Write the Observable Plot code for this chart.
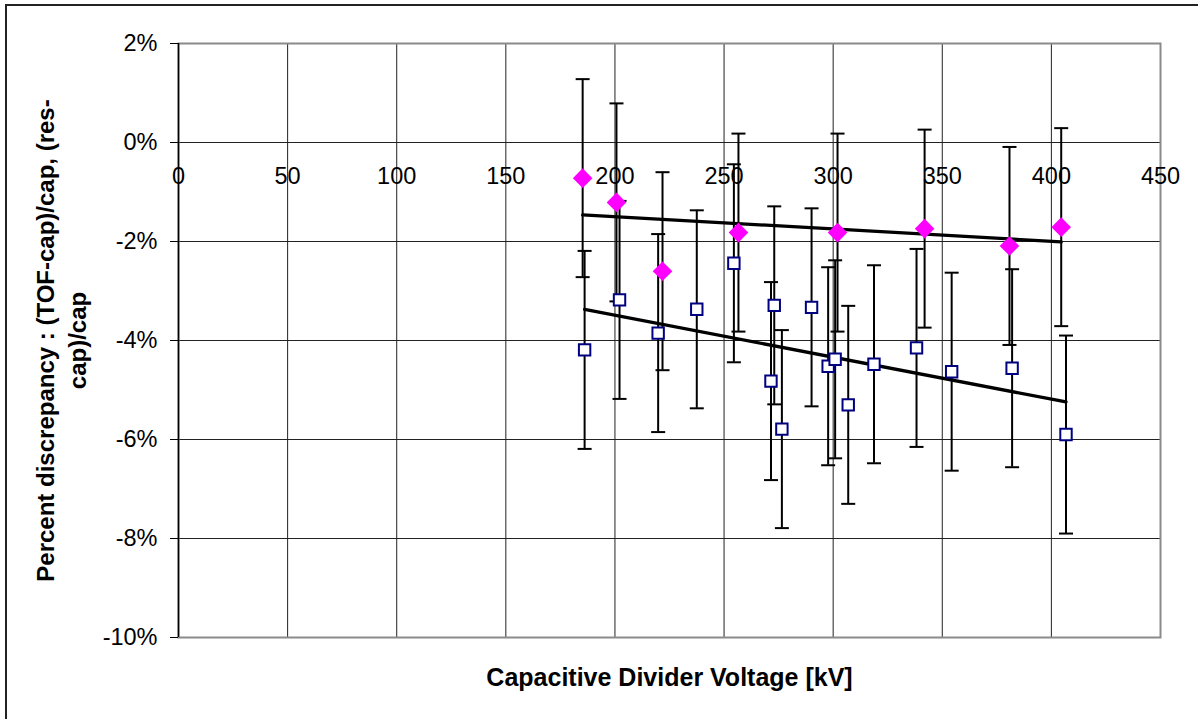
<!DOCTYPE html>
<html>
<head>
<meta charset="utf-8">
<script src="https://cdn.jsdelivr.net/npm/d3@7"></script>
<script src="https://cdn.jsdelivr.net/npm/@observablehq/plot@0.6"></script>
<style>
  body { margin: 0; background: #fff; }
  #wrap { position: relative; width: 1198px; height: 719px; overflow: hidden; background: #fff; }
  #wrap svg { position: absolute; left: 0; top: 0; }
  #border { position: absolute; left: 5px; top: 4px; width: 1300px; height: 800px;
            border-left: 2px solid #222; border-top: 2px solid #222; pointer-events: none; }
</style>
</head>
<body>
<div id="wrap"></div>
<script>
// ---- data ----
const xTicks = [0, 50, 100, 150, 200, 250, 300, 350, 400, 450];
const yTicks = [2, 0, -2, -4, -6, -8, -10];

// TOF vs capacitive divider (magenta diamonds)
const tofVoltage = [185.2, 200.7, 221.8, 256.6, 302.0, 341.9, 380.8, 404.5];
const tofDiscrepancy = [-0.72, -1.21, -2.60, -1.82, -1.82, -1.74, -2.09, -1.71];
const tofError = [2, 2, 2, 2, 2, 2, 2, 2];

// resistive divider vs capacitive divider (open squares)
const resVoltage = [186.1, 202.1, 219.8, 237.5, 254.5, 273.0, 271.5, 276.5, 290.1,
                    297.7, 300.9, 306.9, 318.7, 338.2, 354.3, 382.0, 406.7];
const resDiscrepancy = [-4.19, -3.18, -3.85, -3.37, -2.44, -3.29, -4.82, -5.79, -3.33,
                        -4.52, -4.38, -5.30, -4.48, -4.15, -4.63, -4.56, -5.90];
const resError = [2, 2, 2, 2, 2, 2, 2, 2, 2, 2, 2, 2, 2, 2, 2, 2, 2];

const xTitle = "Capacitive Divider Voltage [kV]";
const yTitleLines = ["Percent discrepancy : (TOF-cap)/cap, (res-", "cap)/cap"];

// ---- tables ----
const tof = tofVoltage.map((v, i) => ({v, d: tofDiscrepancy[i], e: tofError[i]}));
const res = resVoltage.map((v, i) => ({v, d: resDiscrepancy[i], e: resError[i]}));
const both = tof.concat(res);
const caps = both.flatMap(p => [{v: p.v, y: p.d + p.e}, {v: p.v, y: p.d - p.e}]);

// custom symbols
const capSymbol = {draw(ctx) { ctx.moveTo(-7, 0); ctx.lineTo(7, 0); }};
const diamondSymbol = {draw(ctx) { const h = 9.8; ctx.moveTo(0, -h); ctx.lineTo(h, 0); ctx.lineTo(0, h); ctx.lineTo(-h, 0); ctx.closePath(); }};
const squareSymbol = {draw(ctx) { const h = 5.7; ctx.moveTo(-h, -h); ctx.lineTo(h, -h); ctx.lineTo(h, h); ctx.lineTo(-h, h); ctx.closePath(); }};

const chart = Plot.plot({
  width: 1198,
  height: 719,
  marginLeft: 178,
  marginRight: 38,
  marginTop: 43,
  marginBottom: 82,
  style: {fontFamily: "Arial, 'Liberation Sans', sans-serif", fontSize: "23px", color: "#000", background: "transparent"},
  x: {domain: [0, 450], axis: null},
  y: {domain: [-10, 2]},
  marks: [
    // grid
    Plot.ruleX(xTicks.filter(d => d > 0 && d < 450), {stroke: "#222", strokeWidth: 1}),
    Plot.ruleY(yTicks.filter(d => d > -10 && d < 2), {stroke: "#222", strokeWidth: 1}),
    Plot.frame({stroke: "#8a8a8a", strokeWidth: 2}),
    Plot.ruleX([0], {stroke: "#000", strokeWidth: 1.5}),
    Plot.axisY({ticks: yTicks, tickFormat: d => `${d}%`, tickSize: 8, tickPadding: 13, label: null, fontSize: 23.5}),
    // x tick labels along the 0% line
    Plot.text(xTicks, {x: d => d, y: () => 0, text: d => String(d), dy: 34, fontSize: 23.5, fill: "#000"}),
    // error bars
    Plot.ruleX(both, {x: "v", y1: d => d.d - d.e, y2: d => d.d + d.e, stroke: "#000", strokeWidth: 2}),
    Plot.dot(caps, {x: "v", y: "y", symbol: capSymbol, stroke: "#000", strokeWidth: 2, fill: "none"}),
    // trend lines
    Plot.linearRegressionY(tof, {x: "v", y: "d", ci: 0, stroke: "#000", strokeWidth: 3.3}),
    Plot.linearRegressionY(res, {x: "v", y: "d", ci: 0, stroke: "#000", strokeWidth: 3.3}),
    // markers
    Plot.dot(res, {x: "v", y: "d", symbol: squareSymbol, fill: "#fff", stroke: "#000080", strokeWidth: 2}),
    Plot.dot(tof, {x: "v", y: "d", symbol: diamondSymbol, fill: "#ff00ff", stroke: "none"}),
    // titles
    Plot.text([xTitle], {frameAnchor: "bottom", text: d => d, dy: 40.6, lineAnchor: "middle", fontWeight: "bold", fontSize: 25, fill: "#000"}),
    Plot.text([yTitleLines[0]], {frameAnchor: "left", text: d => d, rotate: -90, textAnchor: "middle", lineAnchor: "middle", dx: -132.4, fontWeight: "bold", fontSize: 24, fill: "#000"}),
    Plot.text([yTitleLines[1]], {frameAnchor: "left", text: d => d, rotate: -90, textAnchor: "middle", lineAnchor: "middle", dx: -100, fontWeight: "bold", fontSize: 24, fill: "#000"})
  ]
});

const wrap = document.getElementById("wrap");
wrap.appendChild(chart);
const border = document.createElement("div");
border.id = "border";
wrap.appendChild(border);
</script>
</body>
</html>
